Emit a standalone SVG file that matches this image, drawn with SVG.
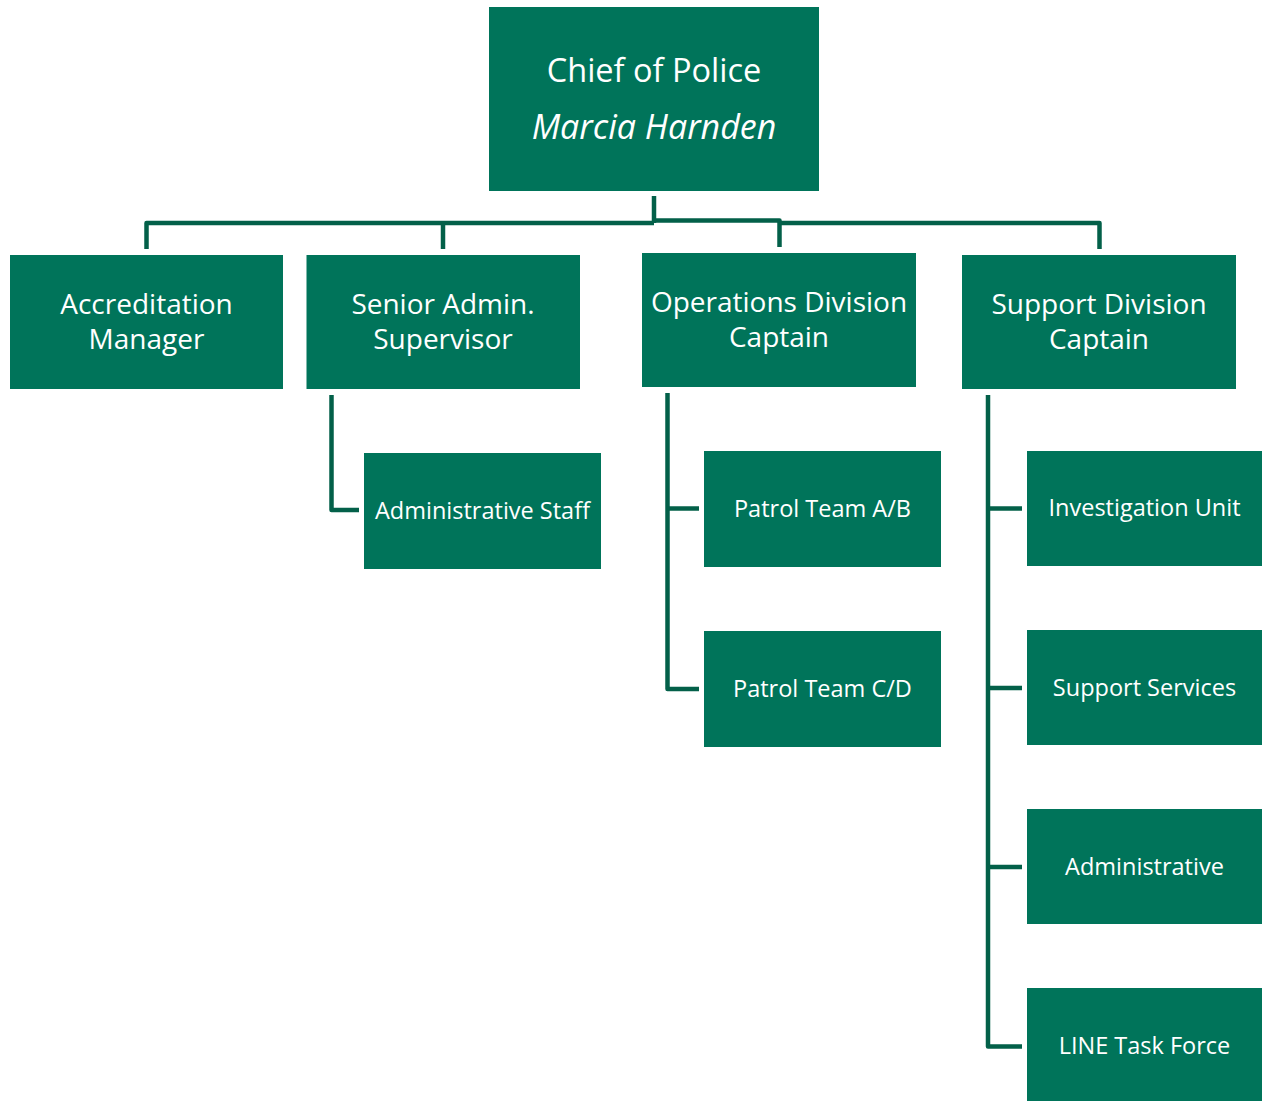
<svg xmlns="http://www.w3.org/2000/svg" width="1266" height="1101" viewBox="0 0 1266 1101">
<style>
.box{fill:#00745a;}
.t{fill:#ffffff;font-family:"Open Sans","Liberation Sans",sans-serif;text-anchor:middle;}
.s{font-size:23.5px;}
.m{font-size:28px;}
.c{font-size:32.5px;}
.i{font-style:italic;font-size:34px;}
.ln{fill:none;stroke:#036049;stroke-width:4.5;stroke-linejoin:round;}
</style>
<rect width="1266" height="1101" fill="#ffffff"/>
<g id="connectors">
<path class="ln" d="M654 196 V223"/>
<path class="ln" d="M146.5 249 V223 H654"/>
<path class="ln" d="M443 249 V223"/>
<path class="ln" d="M654 220.5 H779.5 V247"/>
<path class="ln" d="M779.5 223 H1099.5 V249"/>
<path class="ln" d="M331.5 395 V510 H359"/>
<path class="ln" d="M667.5 393 V689 H699"/>
<path class="ln" d="M667.5 508.5 H699"/>
<path class="ln" d="M988 395 V1046.5 H1022"/>
<path class="ln" d="M988 508.5 H1022"/>
<path class="ln" d="M988 688 H1022"/>
<path class="ln" d="M988 867 H1022"/>
</g>
<g id="chief">
<rect class="box" x="489" y="7" width="330" height="184"/>
<text class="t c" x="654" y="82">Chief of Police</text>
<text class="t i" x="654" y="139">Marcia Harnden</text>
</g>
<g id="accreditation">
<rect class="box" x="10" y="255" width="273" height="134"/>
<text class="t m" x="146.5" y="314">Accreditation</text>
<text class="t m" x="146.5" y="349">Manager</text>
</g>
<g id="senior-admin">
<rect class="box" x="306.5" y="255" width="273.5" height="134"/>
<text class="t m" x="443" y="314">Senior Admin.</text>
<text class="t m" x="443" y="349">Supervisor</text>
</g>
<g id="operations">
<rect class="box" x="642" y="253" width="274" height="134"/>
<text class="t m" x="779" y="312">Operations Division</text>
<text class="t m" x="779" y="347">Captain</text>
</g>
<g id="support">
<rect class="box" x="962" y="255" width="274" height="134"/>
<text class="t m" x="1099" y="314">Support Division</text>
<text class="t m" x="1099" y="349">Captain</text>
</g>
<g id="admin-staff">
<rect class="box" x="364" y="453" width="237" height="116"/>
<text class="t s" x="482.5" y="519">Administrative Staff</text>
</g>
<g id="patrol-ab">
<rect class="box" x="704" y="451" width="237" height="116"/>
<text class="t s" x="822.5" y="517">Patrol Team A/B</text>
</g>
<g id="patrol-cd">
<rect class="box" x="704" y="631" width="237" height="116"/>
<text class="t s" x="822.5" y="697">Patrol Team C/D</text>
</g>
<g id="investigation">
<rect class="box" x="1027" y="451" width="235" height="115"/>
<text class="t s" x="1144.5" y="516">Investigation Unit</text>
</g>
<g id="support-services">
<rect class="box" x="1027" y="630" width="235" height="115"/>
<text class="t s" x="1144.5" y="696">Support Services</text>
</g>
<g id="administrative">
<rect class="box" x="1027" y="809" width="235" height="115"/>
<text class="t s" x="1144.5" y="875">Administrative</text>
</g>
<g id="line-task-force">
<rect class="box" x="1027" y="988" width="235" height="115"/>
<text class="t s" x="1144.5" y="1054">LINE Task Force</text>
</g>
</svg>
